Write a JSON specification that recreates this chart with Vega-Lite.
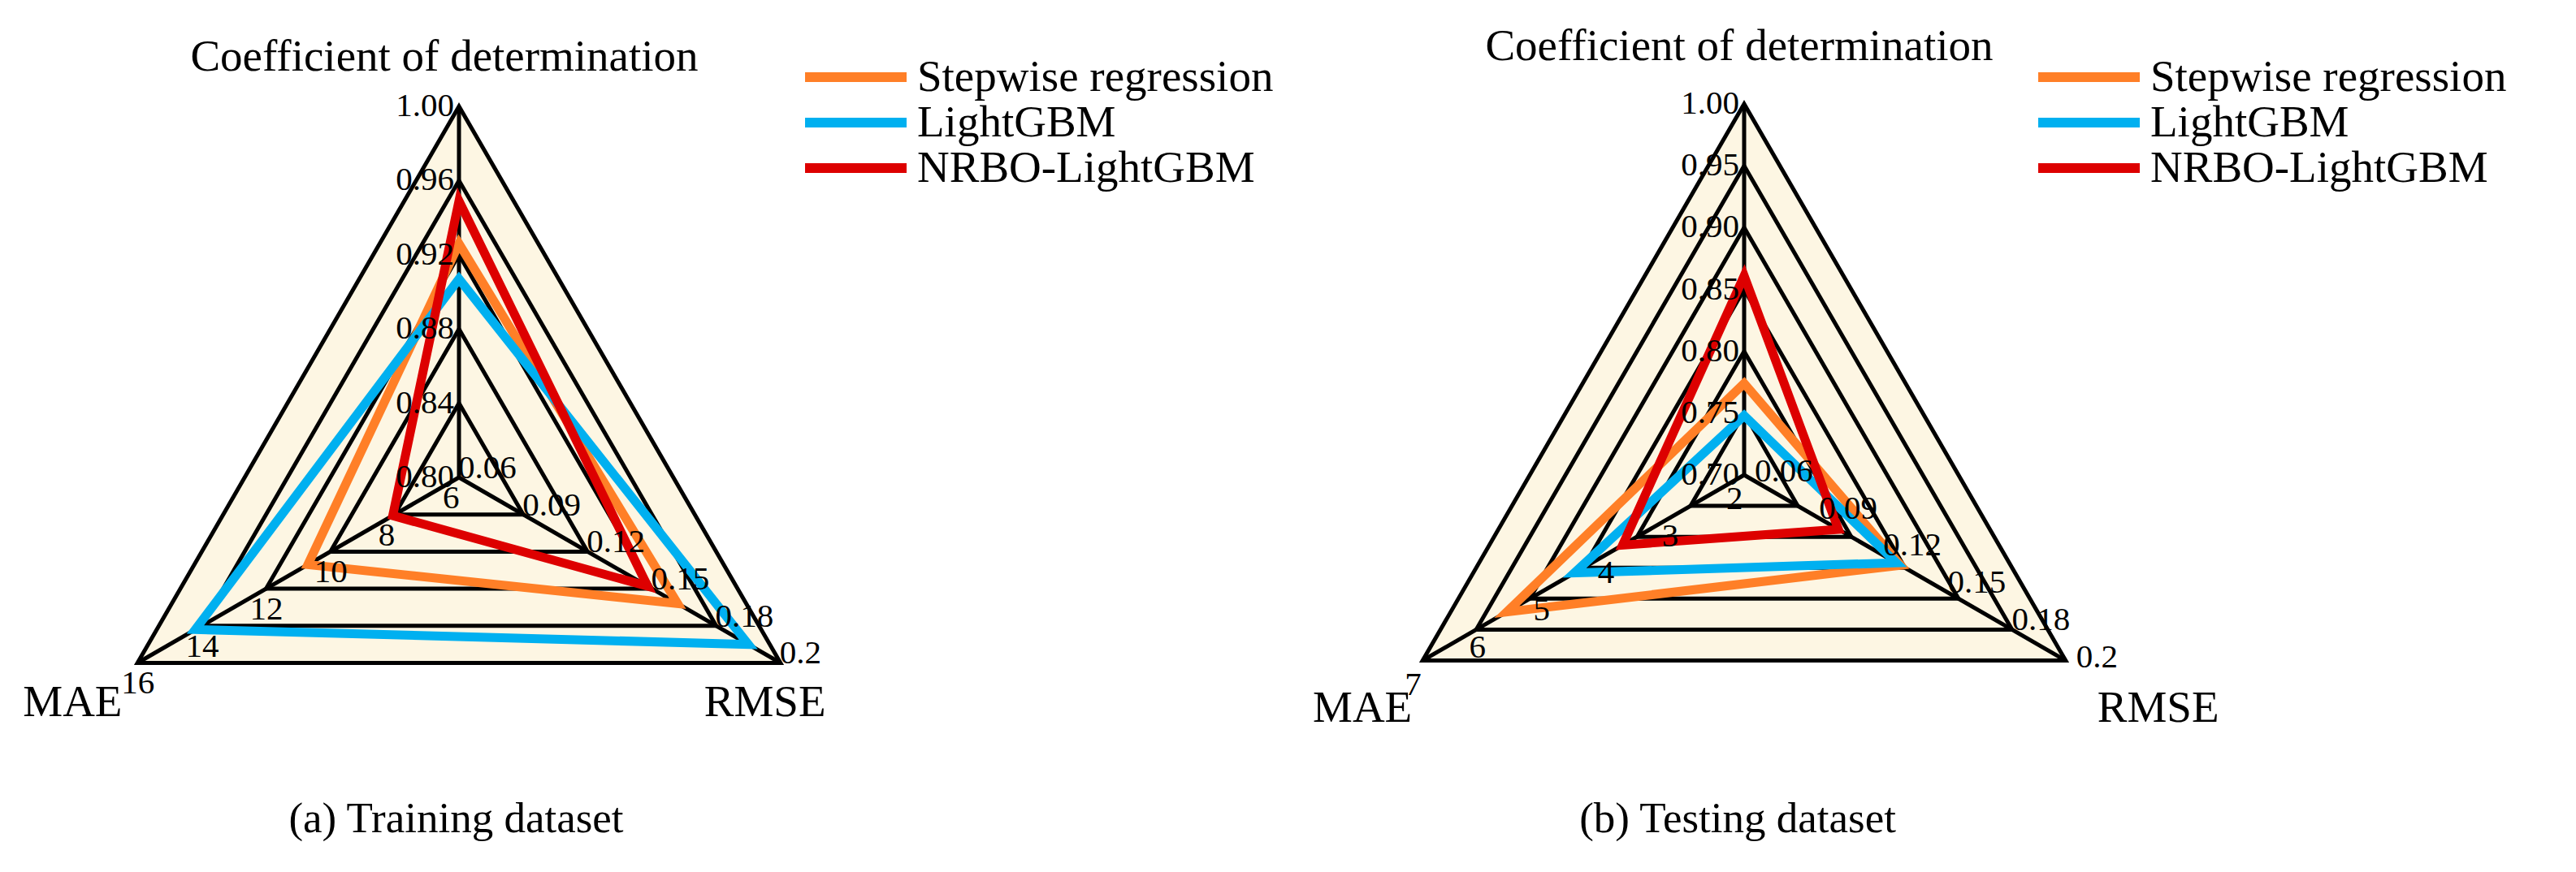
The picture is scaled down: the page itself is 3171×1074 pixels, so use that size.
{
  "$schema": "https://vega.github.io/schema/vega-lite/v6.json",
  "padding": 0,
  "background": "#ffffff",
  "spacing": 0,
  "config": {
    "view": {"stroke": null},
    "font": "Liberation Serif",
    "text": {"font": "Liberation Serif", "color": "#000000"},
    "title": {"font": "Liberation Serif", "fontWeight": "normal", "color": "#000000"},
    "legend": {
      "symbolType": "stroke",
      "symbolSize": 15625,
      "symbolStrokeWidth": 12,
      "labelFont": "Liberation Serif",
      "labelFontSize": 55,
      "labelColor": "#000000",
      "labelLimit": 0,
      "labelOffset": 7,
      "clipHeight": 40,
      "rowPadding": 1,
      "padding": 0
    }
  },
  "resolve": {"scale": {"color": "independent", "x": "independent", "y": "independent"}, "legend": {"color": "independent"}},
  "datasets": {
    "scores": [
      {"panel": "a", "model": "Stepwise regression", "metric": "R2", "value": 0.926},
      {"panel": "a", "model": "Stepwise regression", "metric": "MAE", "value": 10.7},
      {"panel": "a", "model": "Stepwise regression", "metric": "RMSE", "value": 0.162},
      {"panel": "a", "model": "LightGBM", "metric": "R2", "value": 0.907},
      {"panel": "a", "model": "LightGBM", "metric": "MAE", "value": 14.2},
      {"panel": "a", "model": "LightGBM", "metric": "RMSE", "value": 0.195},
      {"panel": "a", "model": "NRBO-LightGBM", "metric": "R2", "value": 0.949},
      {"panel": "a", "model": "NRBO-LightGBM", "metric": "MAE", "value": 8.06},
      {"panel": "a", "model": "NRBO-LightGBM", "metric": "RMSE", "value": 0.148},
      {"panel": "b", "model": "Stepwise regression", "metric": "R2", "value": 0.774},
      {"panel": "b", "model": "Stepwise regression", "metric": "MAE", "value": 5.69},
      {"panel": "b", "model": "Stepwise regression", "metric": "RMSE", "value": 0.133},
      {"panel": "b", "model": "LightGBM", "metric": "R2", "value": 0.748},
      {"panel": "b", "model": "LightGBM", "metric": "MAE", "value": 4.64},
      {"panel": "b", "model": "LightGBM", "metric": "RMSE", "value": 0.131},
      {"panel": "b", "model": "NRBO-LightGBM", "metric": "R2", "value": 0.861},
      {"panel": "b", "model": "NRBO-LightGBM", "metric": "MAE", "value": 3.89},
      {"panel": "b", "model": "NRBO-LightGBM", "metric": "RMSE", "value": 0.104}
    ],
    "ticks": [
      {"panel": "a", "metric": "R2", "value": 0.80, "label": "0.80"},
      {"panel": "a", "metric": "R2", "value": 0.84, "label": "0.84"},
      {"panel": "a", "metric": "R2", "value": 0.88, "label": "0.88"},
      {"panel": "a", "metric": "R2", "value": 0.92, "label": "0.92"},
      {"panel": "a", "metric": "R2", "value": 0.96, "label": "0.96"},
      {"panel": "a", "metric": "R2", "value": 1.00, "label": "1.00"},
      {"panel": "a", "metric": "MAE", "value": 6, "label": "6"},
      {"panel": "a", "metric": "MAE", "value": 8, "label": "8"},
      {"panel": "a", "metric": "MAE", "value": 10, "label": "10"},
      {"panel": "a", "metric": "MAE", "value": 12, "label": "12"},
      {"panel": "a", "metric": "MAE", "value": 14, "label": "14"},
      {"panel": "a", "metric": "MAE", "value": 16, "label": "16"},
      {"panel": "a", "metric": "RMSE", "value": 0.06, "label": "0.06"},
      {"panel": "a", "metric": "RMSE", "value": 0.09, "label": "0.09"},
      {"panel": "a", "metric": "RMSE", "value": 0.12, "label": "0.12"},
      {"panel": "a", "metric": "RMSE", "value": 0.15, "label": "0.15"},
      {"panel": "a", "metric": "RMSE", "value": 0.18, "label": "0.18"},
      {"panel": "a", "metric": "RMSE", "value": 0.21, "label": "0.2"},
      {"panel": "b", "metric": "R2", "value": 0.70, "label": "0.70"},
      {"panel": "b", "metric": "R2", "value": 0.75, "label": "0.75"},
      {"panel": "b", "metric": "R2", "value": 0.80, "label": "0.80"},
      {"panel": "b", "metric": "R2", "value": 0.85, "label": "0.85"},
      {"panel": "b", "metric": "R2", "value": 0.90, "label": "0.90"},
      {"panel": "b", "metric": "R2", "value": 0.95, "label": "0.95"},
      {"panel": "b", "metric": "R2", "value": 1.00, "label": "1.00"},
      {"panel": "b", "metric": "MAE", "value": 2, "label": "2"},
      {"panel": "b", "metric": "MAE", "value": 3, "label": "3"},
      {"panel": "b", "metric": "MAE", "value": 4, "label": "4"},
      {"panel": "b", "metric": "MAE", "value": 5, "label": "5"},
      {"panel": "b", "metric": "MAE", "value": 6, "label": "6"},
      {"panel": "b", "metric": "MAE", "value": 7, "label": "7"},
      {"panel": "b", "metric": "RMSE", "value": 0.06, "label": "0.06"},
      {"panel": "b", "metric": "RMSE", "value": 0.09, "label": "0.09"},
      {"panel": "b", "metric": "RMSE", "value": 0.12, "label": "0.12"},
      {"panel": "b", "metric": "RMSE", "value": 0.15, "label": "0.15"},
      {"panel": "b", "metric": "RMSE", "value": 0.18, "label": "0.18"},
      {"panel": "b", "metric": "RMSE", "value": 0.21, "label": "0.2"}
    ],
    "grid": [
      {"panel": "a", "level": 1, "of": 5},
      {"panel": "a", "level": 2, "of": 5},
      {"panel": "a", "level": 3, "of": 5},
      {"panel": "a", "level": 4, "of": 5},
      {"panel": "a", "level": 5, "of": 5},
      {"panel": "b", "level": 1, "of": 6},
      {"panel": "b", "level": 2, "of": 6},
      {"panel": "b", "level": 3, "of": 6},
      {"panel": "b", "level": 4, "of": 6},
      {"panel": "b", "level": 5, "of": 6},
      {"panel": "b", "level": 6, "of": 6}
    ],
    "axes": [
      {"metric": "R2", "name": "Coefficient of determination"},
      {"metric": "MAE", "name": "MAE"},
      {"metric": "RMSE", "name": "RMSE"}
    ]
  },
  "hconcat": [
    {
      "width": 1585,
      "height": 1074,
      "title": {"text": "(a) Training dataset", "orient": "bottom", "anchor": "middle", "baseline": "alphabetic", "offset": -49, "dx": -231, "fontSize": 53},
      "layer": [
        {
          "data": {"name": "axes"},
          "transform": [
            {"calculate": "datum.metric === 'R2' ? 90 : (datum.metric === 'MAE' ? 210 : 330)", "as": "ang"},
            {"calculate": "cos(datum.ang * PI / 180)", "as": "px"},
            {"calculate": "sin(datum.ang * PI / 180)", "as": "py"},
            {"calculate": "-0.5", "as": "pb"}
          ],
          "mark": {"type": "area", "color": "#FDF6E3", "opacity": 1},
          "encoding": {
            "x": {"field": "px", "type": "quantitative", "scale": {"domain": [-1.23632, 2.23195], "nice": false, "zero": false}, "axis": null},
            "y": {"field": "py", "type": "quantitative", "scale": {"domain": [-1.06346, 1.28665], "nice": false, "zero": false}, "axis": null},
            "y2": {"field": "pb"}
          }
        },
        {
          "data": {"name": "grid"},
          "transform": [
            {"filter": "datum.panel === 'a'"},
            {"calculate": "[90, 210, 330]", "as": "ang"},
            {"flatten": ["ang"]},
            {"calculate": "datum.level / datum.of * cos(datum.ang * PI / 180)", "as": "px"},
            {"calculate": "datum.level / datum.of * sin(datum.ang * PI / 180)", "as": "py"}
          ],
          "mark": {"type": "line", "color": "#000000", "strokeWidth": 5, "interpolate": "linear-closed", "strokeJoin": "miter"},
          "encoding": {
            "x": {"field": "px", "type": "quantitative", "scale": {"domain": [-1.23632, 2.23195], "nice": false, "zero": false}, "axis": null},
            "y": {"field": "py", "type": "quantitative", "scale": {"domain": [-1.06346, 1.28665], "nice": false, "zero": false}, "axis": null},
            "detail": {"field": "level", "type": "nominal"},
            "order": {"field": "ang", "type": "quantitative"}
          }
        },
        {
          "data": {"name": "axes"},
          "transform": [
            {"calculate": "datum.metric === 'R2' ? 90 : (datum.metric === 'MAE' ? 210 : 330)", "as": "ang"},
            {"calculate": "cos(datum.ang * PI / 180)", "as": "px"},
            {"calculate": "sin(datum.ang * PI / 180)", "as": "py"},
            {"calculate": "0", "as": "c0"}
          ],
          "mark": {"type": "rule", "color": "#000000", "strokeWidth": 5},
          "encoding": {
            "x": {"field": "c0", "type": "quantitative", "scale": {"domain": [-1.23632, 2.23195], "nice": false, "zero": false}, "axis": null},
            "y": {"field": "c0", "type": "quantitative", "scale": {"domain": [-1.06346, 1.28665], "nice": false, "zero": false}, "axis": null},
            "x2": {"field": "px"},
            "y2": {"field": "py"}
          }
        },
        {
          "data": {"name": "scores"},
          "transform": [
            {"filter": "datum.panel === 'a'"},
            {"calculate": "datum.metric === 'R2' ? 90 : (datum.metric === 'MAE' ? 210 : 330)", "as": "ang"},
            {"calculate": "datum.metric === 'R2' ? (datum.value - 0.8) / 0.2 : (datum.metric === 'MAE' ? (datum.value - 6) / 10 : (datum.value - 0.06) / 0.15)", "as": "r"},
            {"calculate": "datum.r * cos(datum.ang * PI / 180)", "as": "px"},
            {"calculate": "datum.r * sin(datum.ang * PI / 180)", "as": "py"}
          ],
          "mark": {"type": "line", "strokeWidth": 11, "interpolate": "linear-closed", "strokeJoin": "miter"},
          "encoding": {
            "x": {"field": "px", "type": "quantitative", "scale": {"domain": [-1.23632, 2.23195], "nice": false, "zero": false}, "axis": null},
            "y": {"field": "py", "type": "quantitative", "scale": {"domain": [-1.06346, 1.28665], "nice": false, "zero": false}, "axis": null},
            "color": {"field": "model", "type": "nominal", "scale": {"domain": ["Stepwise regression", "LightGBM", "NRBO-LightGBM"], "range": ["#FF7F27", "#00B0F0", "#DD0000"]}, "legend": {"title": null, "orient": "none", "legendX": 985, "legendY": 75}},
            "order": {"field": "ang", "type": "quantitative"}
          }
        },
        {
          "data": {"name": "ticks"},
          "transform": [
            {"filter": "datum.panel === 'a' && datum.metric === 'R2'"},
            {"calculate": "(datum.value - 0.8) / 0.2", "as": "py"},
            {"calculate": "0", "as": "px"}
          ],
          "mark": {"type": "text", "align": "right", "baseline": "middle", "dx": -6, "fontSize": 41},
          "encoding": {
            "x": {"field": "px", "type": "quantitative", "scale": {"domain": [-1.23632, 2.23195], "nice": false, "zero": false}, "axis": null},
            "y": {"field": "py", "type": "quantitative", "scale": {"domain": [-1.06346, 1.28665], "nice": false, "zero": false}, "axis": null},
            "text": {"field": "label", "type": "nominal"}
          }
        },
        {
          "data": {"name": "ticks"},
          "transform": [
            {"filter": "datum.panel === 'a' && datum.metric === 'MAE'"},
            {"calculate": "(datum.value - 6) / 10", "as": "r"},
            {"calculate": "datum.r * cos(210 * PI / 180)", "as": "px"},
            {"calculate": "datum.r * sin(210 * PI / 180)", "as": "py"}
          ],
          "mark": {"type": "text", "align": "left", "baseline": "alphabetic", "dx": -20, "dy": 38, "fontSize": 41},
          "encoding": {
            "x": {"field": "px", "type": "quantitative", "scale": {"domain": [-1.23632, 2.23195], "nice": false, "zero": false}, "axis": null},
            "y": {"field": "py", "type": "quantitative", "scale": {"domain": [-1.06346, 1.28665], "nice": false, "zero": false}, "axis": null},
            "text": {"field": "label", "type": "nominal"}
          }
        },
        {
          "data": {"name": "ticks"},
          "transform": [
            {"filter": "datum.panel === 'a' && datum.metric === 'RMSE'"},
            {"calculate": "(datum.value - 0.06) / 0.15", "as": "r"},
            {"calculate": "datum.r * cos(330 * PI / 180)", "as": "px"},
            {"calculate": "datum.r * sin(330 * PI / 180)", "as": "py"}
          ],
          "mark": {"type": "text", "align": "left", "baseline": "alphabetic", "dx": -1, "dy": 1, "fontSize": 41},
          "encoding": {
            "x": {"field": "px", "type": "quantitative", "scale": {"domain": [-1.23632, 2.23195], "nice": false, "zero": false}, "axis": null},
            "y": {"field": "py", "type": "quantitative", "scale": {"domain": [-1.06346, 1.28665], "nice": false, "zero": false}, "axis": null},
            "text": {"field": "label", "type": "nominal"}
          }
        },
        {
          "data": {"name": "axes"},
          "transform": [
            {"filter": "datum.metric === 'R2'"},
            {"calculate": "0", "as": "px"},
            {"calculate": "1", "as": "py"}
          ],
          "mark": {"type": "text", "align": "center", "baseline": "alphabetic", "dx": -18, "dy": -44, "fontSize": 55},
          "encoding": {
            "x": {"field": "px", "type": "quantitative", "scale": {"domain": [-1.23632, 2.23195], "nice": false, "zero": false}, "axis": null},
            "y": {"field": "py", "type": "quantitative", "scale": {"domain": [-1.06346, 1.28665], "nice": false, "zero": false}, "axis": null},
            "text": {"field": "name", "type": "nominal"}
          }
        },
        {
          "data": {"name": "axes"},
          "transform": [
            {"filter": "datum.metric === 'MAE'"},
            {"calculate": "cos(210 * PI / 180)", "as": "px"},
            {"calculate": "sin(210 * PI / 180)", "as": "py"}
          ],
          "mark": {"type": "text", "align": "left", "baseline": "alphabetic", "dx": -141, "dy": 66, "fontSize": 55},
          "encoding": {
            "x": {"field": "px", "type": "quantitative", "scale": {"domain": [-1.23632, 2.23195], "nice": false, "zero": false}, "axis": null},
            "y": {"field": "py", "type": "quantitative", "scale": {"domain": [-1.06346, 1.28665], "nice": false, "zero": false}, "axis": null},
            "text": {"field": "name", "type": "nominal"}
          }
        },
        {
          "data": {"name": "axes"},
          "transform": [
            {"filter": "datum.metric === 'RMSE'"},
            {"calculate": "cos(330 * PI / 180)", "as": "px"},
            {"calculate": "sin(330 * PI / 180)", "as": "py"}
          ],
          "mark": {"type": "text", "align": "left", "baseline": "alphabetic", "dx": -94, "dy": 66, "fontSize": 55},
          "encoding": {
            "x": {"field": "px", "type": "quantitative", "scale": {"domain": [-1.23632, 2.23195], "nice": false, "zero": false}, "axis": null},
            "y": {"field": "py", "type": "quantitative", "scale": {"domain": [-1.06346, 1.28665], "nice": false, "zero": false}, "axis": null},
            "text": {"field": "name", "type": "nominal"}
          }
        }
      ]
    },
    {
      "width": 1586,
      "height": 1074,
      "title": {"text": "(b) Testing dataset", "orient": "bottom", "anchor": "middle", "baseline": "alphabetic", "offset": -49, "dx": -239, "fontSize": 53},
      "layer": [
        {
          "data": {"name": "axes"},
          "transform": [
            {"calculate": "datum.metric === 'R2' ? 90 : (datum.metric === 'MAE' ? 210 : 330)", "as": "ang"},
            {"calculate": "cos(datum.ang * PI / 180)", "as": "px"},
            {"calculate": "sin(datum.ang * PI / 180)", "as": "py"},
            {"calculate": "-0.5", "as": "pb"}
          ],
          "mark": {"type": "area", "color": "#FDF6E3", "opacity": 1},
          "encoding": {
            "x": {"field": "px", "type": "quantitative", "scale": {"domain": [-1.22976, 2.2407], "nice": false, "zero": false}, "axis": null},
            "y": {"field": "py", "type": "quantitative", "scale": {"domain": [-1.07002, 1.28009], "nice": false, "zero": false}, "axis": null},
            "y2": {"field": "pb"}
          }
        },
        {
          "data": {"name": "grid"},
          "transform": [
            {"filter": "datum.panel === 'b'"},
            {"calculate": "[90, 210, 330]", "as": "ang"},
            {"flatten": ["ang"]},
            {"calculate": "datum.level / datum.of * cos(datum.ang * PI / 180)", "as": "px"},
            {"calculate": "datum.level / datum.of * sin(datum.ang * PI / 180)", "as": "py"}
          ],
          "mark": {"type": "line", "color": "#000000", "strokeWidth": 5, "interpolate": "linear-closed", "strokeJoin": "miter"},
          "encoding": {
            "x": {"field": "px", "type": "quantitative", "scale": {"domain": [-1.22976, 2.2407], "nice": false, "zero": false}, "axis": null},
            "y": {"field": "py", "type": "quantitative", "scale": {"domain": [-1.07002, 1.28009], "nice": false, "zero": false}, "axis": null},
            "detail": {"field": "level", "type": "nominal"},
            "order": {"field": "ang", "type": "quantitative"}
          }
        },
        {
          "data": {"name": "axes"},
          "transform": [
            {"calculate": "datum.metric === 'R2' ? 90 : (datum.metric === 'MAE' ? 210 : 330)", "as": "ang"},
            {"calculate": "cos(datum.ang * PI / 180)", "as": "px"},
            {"calculate": "sin(datum.ang * PI / 180)", "as": "py"},
            {"calculate": "0", "as": "c0"}
          ],
          "mark": {"type": "rule", "color": "#000000", "strokeWidth": 5},
          "encoding": {
            "x": {"field": "c0", "type": "quantitative", "scale": {"domain": [-1.22976, 2.2407], "nice": false, "zero": false}, "axis": null},
            "y": {"field": "c0", "type": "quantitative", "scale": {"domain": [-1.07002, 1.28009], "nice": false, "zero": false}, "axis": null},
            "x2": {"field": "px"},
            "y2": {"field": "py"}
          }
        },
        {
          "data": {"name": "scores"},
          "transform": [
            {"filter": "datum.panel === 'b'"},
            {"calculate": "datum.metric === 'R2' ? 90 : (datum.metric === 'MAE' ? 210 : 330)", "as": "ang"},
            {"calculate": "datum.metric === 'R2' ? (datum.value - 0.7) / 0.3 : (datum.metric === 'MAE' ? (datum.value - 2) / 5 : (datum.value - 0.06) / 0.15)", "as": "r"},
            {"calculate": "datum.r * cos(datum.ang * PI / 180)", "as": "px"},
            {"calculate": "datum.r * sin(datum.ang * PI / 180)", "as": "py"}
          ],
          "mark": {"type": "line", "strokeWidth": 11, "interpolate": "linear-closed", "strokeJoin": "miter"},
          "encoding": {
            "x": {"field": "px", "type": "quantitative", "scale": {"domain": [-1.22976, 2.2407], "nice": false, "zero": false}, "axis": null},
            "y": {"field": "py", "type": "quantitative", "scale": {"domain": [-1.07002, 1.28009], "nice": false, "zero": false}, "axis": null},
            "color": {"field": "model", "type": "nominal", "scale": {"domain": ["Stepwise regression", "LightGBM", "NRBO-LightGBM"], "range": ["#FF7F27", "#00B0F0", "#DD0000"]}, "legend": {"title": null, "orient": "none", "legendX": 918, "legendY": 75}},
            "order": {"field": "ang", "type": "quantitative"}
          }
        },
        {
          "data": {"name": "ticks"},
          "transform": [
            {"filter": "datum.panel === 'b' && datum.metric === 'R2'"},
            {"calculate": "(datum.value - 0.7) / 0.3", "as": "py"},
            {"calculate": "0", "as": "px"}
          ],
          "mark": {"type": "text", "align": "right", "baseline": "middle", "dx": -6, "fontSize": 41},
          "encoding": {
            "x": {"field": "px", "type": "quantitative", "scale": {"domain": [-1.22976, 2.2407], "nice": false, "zero": false}, "axis": null},
            "y": {"field": "py", "type": "quantitative", "scale": {"domain": [-1.07002, 1.28009], "nice": false, "zero": false}, "axis": null},
            "text": {"field": "label", "type": "nominal"}
          }
        },
        {
          "data": {"name": "ticks"},
          "transform": [
            {"filter": "datum.panel === 'b' && datum.metric === 'MAE'"},
            {"calculate": "(datum.value - 2) / 5", "as": "r"},
            {"calculate": "datum.r * cos(210 * PI / 180)", "as": "px"},
            {"calculate": "datum.r * sin(210 * PI / 180)", "as": "py"}
          ],
          "mark": {"type": "text", "align": "left", "baseline": "alphabetic", "dx": -22, "dy": 42, "fontSize": 41},
          "encoding": {
            "x": {"field": "px", "type": "quantitative", "scale": {"domain": [-1.22976, 2.2407], "nice": false, "zero": false}, "axis": null},
            "y": {"field": "py", "type": "quantitative", "scale": {"domain": [-1.07002, 1.28009], "nice": false, "zero": false}, "axis": null},
            "text": {"field": "label", "type": "nominal"}
          }
        },
        {
          "data": {"name": "ticks"},
          "transform": [
            {"filter": "datum.panel === 'b' && datum.metric === 'RMSE'"},
            {"calculate": "(datum.value - 0.06) / 0.15", "as": "r"},
            {"calculate": "datum.r * cos(330 * PI / 180)", "as": "px"},
            {"calculate": "datum.r * sin(330 * PI / 180)", "as": "py"}
          ],
          "mark": {"type": "text", "align": "left", "baseline": "alphabetic", "dx": 13, "dy": 8, "fontSize": 41},
          "encoding": {
            "x": {"field": "px", "type": "quantitative", "scale": {"domain": [-1.22976, 2.2407], "nice": false, "zero": false}, "axis": null},
            "y": {"field": "py", "type": "quantitative", "scale": {"domain": [-1.07002, 1.28009], "nice": false, "zero": false}, "axis": null},
            "text": {"field": "label", "type": "nominal"}
          }
        },
        {
          "data": {"name": "axes"},
          "transform": [
            {"filter": "datum.metric === 'R2'"},
            {"calculate": "0", "as": "px"},
            {"calculate": "1", "as": "py"}
          ],
          "mark": {"type": "text", "align": "center", "baseline": "alphabetic", "dx": -6, "dy": -54, "fontSize": 55},
          "encoding": {
            "x": {"field": "px", "type": "quantitative", "scale": {"domain": [-1.22976, 2.2407], "nice": false, "zero": false}, "axis": null},
            "y": {"field": "py", "type": "quantitative", "scale": {"domain": [-1.07002, 1.28009], "nice": false, "zero": false}, "axis": null},
            "text": {"field": "name", "type": "nominal"}
          }
        },
        {
          "data": {"name": "axes"},
          "transform": [
            {"filter": "datum.metric === 'MAE'"},
            {"calculate": "cos(210 * PI / 180)", "as": "px"},
            {"calculate": "sin(210 * PI / 180)", "as": "py"}
          ],
          "mark": {"type": "text", "align": "right", "baseline": "alphabetic", "dx": -13, "dy": 75, "fontSize": 55},
          "encoding": {
            "x": {"field": "px", "type": "quantitative", "scale": {"domain": [-1.22976, 2.2407], "nice": false, "zero": false}, "axis": null},
            "y": {"field": "py", "type": "quantitative", "scale": {"domain": [-1.07002, 1.28009], "nice": false, "zero": false}, "axis": null},
            "text": {"field": "name", "type": "nominal"}
          }
        },
        {
          "data": {"name": "axes"},
          "transform": [
            {"filter": "datum.metric === 'RMSE'"},
            {"calculate": "cos(330 * PI / 180)", "as": "px"},
            {"calculate": "sin(330 * PI / 180)", "as": "py"}
          ],
          "mark": {"type": "text", "align": "left", "baseline": "alphabetic", "dx": 39, "dy": 75, "fontSize": 55},
          "encoding": {
            "x": {"field": "px", "type": "quantitative", "scale": {"domain": [-1.22976, 2.2407], "nice": false, "zero": false}, "axis": null},
            "y": {"field": "py", "type": "quantitative", "scale": {"domain": [-1.07002, 1.28009], "nice": false, "zero": false}, "axis": null},
            "text": {"field": "name", "type": "nominal"}
          }
        }
      ]
    }
  ]
}
